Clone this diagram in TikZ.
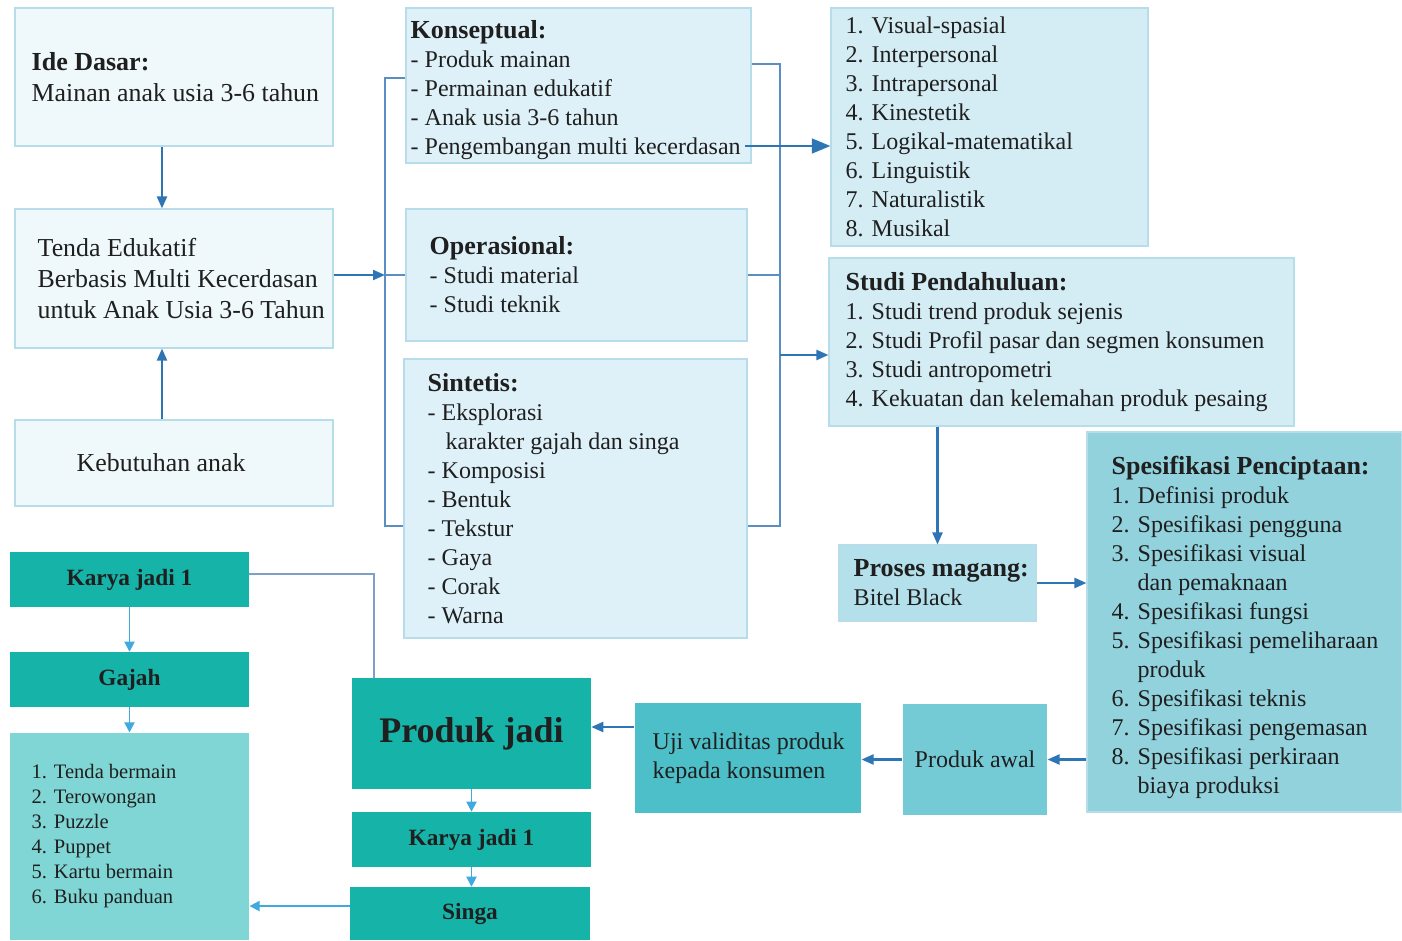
\documentclass[tikz,border=0pt]{standalone}
\usepackage{fontspec}
\setmainfont{Liberation Serif}
\usetikzlibrary{arrows.meta,positioning}

\definecolor{boxline}{HTML}{B7DDEA}
\definecolor{palefill}{HTML}{EFF8FB}
\definecolor{softfill}{HTML}{DFF1F8}
\definecolor{skyfill}{HTML}{D4ECF4}
\definecolor{magangfill}{HTML}{B3E0EA}
\definecolor{spekfill}{HTML}{92D2DD}
\definecolor{awalfill}{HTML}{74CBD6}
\definecolor{ujifill}{HTML}{4DBFC8}
\definecolor{tealfill}{HTML}{16B3A8}
\definecolor{daftarfill}{HTML}{80D6D4}
\definecolor{arrowblue}{HTML}{2E75B6}
\definecolor{brkblue}{HTML}{5B8FC2}
\definecolor{lightarrow}{HTML}{3FA9E0}
\definecolor{linkblue}{HTML}{7F9FC6}
\definecolor{textdark}{HTML}{1F1F1F}

% judul kotak sedikit lebih besar
\newcommand\judul[1]{{\fontsize{19.5}{21.75}\selectfont\bfseries #1}}

\tikzset{
  pale/.style={draw=boxline, fill=palefill, line width=0.8pt, inner sep=0pt},
  soft/.style={pale, fill=softfill},
  sky/.style={pale, fill=skyfill},
  tealbox/.style={draw=none, fill=tealfill, inner sep=0pt, align=center,
    text=textdark, font=\fontsize{17.5}{21}\selectfont\bfseries},
  txt/.style={inner sep=0pt, align=left, text=textdark,
    font=\fontsize{18}{21.75}\selectfont},
  txtwide/.style={txt, font=\fontsize{19.4}{23.25}\selectfont},
  arr/.style={draw=arrowblue, line width=1.6pt, -{Triangle[length=9pt,width=7.5pt]}},
  bigarr/.style={draw=arrowblue, line width=2pt, -{Triangle[length=14pt,width=11pt]}},
  larr/.style={draw=lightarrow, line width=1.4pt, -{Triangle[length=7.5pt,width=7.5pt]}},
  brk/.style={draw=brkblue, line width=1.3pt},
  link/.style={draw=linkblue, line width=0.9pt}
}

\begin{document}
\begin{tikzpicture}[x=0.75pt,y=0.75pt,yscale=-1,xscale=1]
  \useasboundingbox (0,0) rectangle (1402,941);

  % kolom kiri
  \node[pale, minimum width=238.5pt, minimum height=103.5pt] (ide) at (174,77) {};
  \node[txtwide, right=12.75pt of ide.west] (ideT) {\judul{Ide Dasar:}\\Mainan anak usia 3-6 tahun};
  \node[pale, minimum width=238.5pt, minimum height=104.25pt] (tenda) at (174,278.5) {};
  \node[txtwide, right=17.25pt of tenda.west] (tendaT) {Tenda Edukatif\\Berbasis Multi Kecerdasan\\untuk Anak Usia 3-6 Tahun};
  \node[pale, minimum width=238.5pt, minimum height=64.5pt] (butuh) at (174,463) {};
  \node[txtwide, right=46.5pt of butuh.west] (butuhT) {Kebutuhan anak};

  % kolom tengah
  \node[soft, minimum width=258.75pt, minimum height=116.25pt] (konsep) at (578.5,85.5) {};
  \node[txt, right=3.75pt of konsep.west, yshift=-3.75pt] (konsepT) {\judul{Konseptual:}\\- Produk mainan\\- Permainan edukatif\\- Anak usia 3-6 tahun\\- Pengembangan multi kecerdasan};
  \node[soft, minimum width=255.75pt, minimum height=99pt] (opera) at (576.5,275) {};
  \node[txt, right=18pt of opera.west] (operaT) {\judul{Operasional:}\\- Studi material\\- Studi teknik};
  \node[soft, minimum width=257.25pt, minimum height=209.25pt] (sintetis) at (575.5,498.5) {};
  \node[txt, right=18pt of sintetis.west] (sintetisT) {\judul{Sintetis:}\\- Eksplorasi\\\hspace*{13.5pt}karakter gajah dan singa\\- Komposisi\\- Bentuk\\- Tekstur\\- Gaya\\- Corak\\- Warna};

  % kolom kanan
  \node[sky, minimum width=237.75pt, minimum height=178.5pt] (visual) at (989.5,127) {};
  \node[txt, right=11.25pt of visual.west] (visualT) {1. Visual-spasial\\2. Interpersonal\\3. Intrapersonal\\4. Kinestetik\\5. Logikal-matematikal\\6. Linguistik\\7. Naturalistik\\8. Musikal};
  \node[sky, minimum width=348.75pt, minimum height=126pt] (studi) at (1061.5,342) {};
  \node[txt, right=12.75pt of studi.west] (studiT) {\judul{Studi Pendahuluan:}\\1. Studi trend produk sejenis\\2. Studi Profil pasar dan segmen konsumen\\3. Studi antropometri\\4. Kekuatan dan kelemahan produk pesaing};
  \node[pale, fill=magangfill, minimum width=147.75pt, minimum height=57pt] (magang) at (937.5,583) {};
  \node[txt, right=11.25pt of magang.west] (magangT) {\judul{Proses magang:}\\Bitel Black};
  \node[pale, fill=spekfill, minimum width=236.25pt, minimum height=285pt] (spek) at (1244.5,622) {};
  \node[txt, right=18.75pt of spek.west, yshift=-3.75pt] (spekT) {\judul{Spesifikasi Penciptaan:}\\1. Definisi produk\\2. Spesifikasi pengguna\\3. Spesifikasi visual\\\phantom{3. }dan pemaknaan\\4. Spesifikasi fungsi\\5. Spesifikasi pemeliharaan\\\phantom{5. }produk\\6. Spesifikasi teknis\\7. Spesifikasi pengemasan\\8. Spesifikasi perkiraan\\\phantom{8. }biaya produksi};
  \node[pale, draw=none, fill=awalfill, minimum width=108pt, minimum height=83.25pt, txt, align=center] (awal) at (975,759.5) {Produk awal};
  \node[pale, draw=none, fill=ujifill, minimum width=169.5pt, minimum height=82.5pt] (uji) at (748,758) {};
  \node[txt, right=13.5pt of uji.west] (ujiT) {Uji validitas produk\\kepada konsumen};

  % produk jadi
  \node[tealbox, minimum width=179.25pt, minimum height=83.25pt, font=\fontsize{27}{32}\selectfont\bfseries] (jadi) at (471.5,733.5) {Produk jadi};
  \node[tealbox, minimum width=179.25pt, minimum height=41.25pt] (karyaB) at (471.5,839.5) {Karya jadi 1};
  \node[tealbox, minimum width=180pt, minimum height=39.75pt] (singa) at (470,913.5) {Singa};
  \node[tealbox, minimum width=179.25pt, minimum height=41.25pt] (karyaA) at (129.5,579.5) {Karya jadi 1};
  \node[tealbox, minimum width=179.25pt, minimum height=41.25pt] (gajah) at (129.5,679.5) {Gajah};
  \node[pale, draw=none, fill=daftarfill, minimum width=179.25pt, minimum height=155.25pt] (daftar) at (129.5,836.5) {};
  \node[txt, right=16.5pt of daftar.west, font=\fontsize{15.4}{18.75}\selectfont] (daftarT) {1. Tenda bermain\\2. Terowongan\\3. Puzzle\\4. Puppet\\5. Kartu bermain\\6. Buku panduan};

  % panah kiri
  \draw[arr] ([xshift=-9pt]ide.south) -- ([xshift=-9pt]tenda.north);
  \draw[arr] ([xshift=-9pt]butuh.north) -- ([xshift=-9pt]tenda.south);

  % kurung kiri dan kanan
  \coordinate (bkA) at (385,78);
  \coordinate (bkB) at (385,526);
  \coordinate (bkC) at (780,64);
  \coordinate (bkD) at (780,526);
  \coordinate (bkE) at (780,355);
  \draw[brk] (konsep.west |- bkA) -- (bkA) -- (bkB) -- (sintetis.west |- bkB);
  \draw[brk] (opera.west) -- (opera.west -| bkA);
  \draw[arr] (tenda.east |- opera.west) -- (opera.west -| bkA);
  \draw[brk] (konsep.east |- bkC) -- (bkC) -- (bkD) -- (sintetis.east |- bkD);
  \draw[brk] (opera.east) -- (opera.east -| bkC);
  \draw[arr] (bkE) -- (studi.west |- bkE);
  \coordinate (pengEnd) at (745,146);
  \draw[bigarr] (pengEnd) -- (visual.west |- pengEnd);

  % alur kanan ke bawah
  \draw[arr] (studi.south -| magang.north) -- (magang.north);
  \draw[arr] (magang.east) -- (magang.east -| spek.west);
  \draw[arr] (spek.west |- awal.east) -- (awal.east);
  \draw[arr] (awal.west) -- (awal.west -| uji.east);
  \draw[arr] ([yshift=-23.25pt]uji.west) -- ([yshift=-23.25pt]uji.west -| jadi.east);

  % alur produk jadi
  \coordinate (tekuk) at (374,574);
  \draw[link] (jadi.north -| tekuk) -- (tekuk) -- (tekuk -| karyaA.east);
  \draw[larr] (karyaA.south) -- (gajah.north);
  \draw[larr] (gajah.south) -- (daftar.north);
  \draw[larr] (jadi.south) -- (karyaB.north);
  \draw[larr] (karyaB.south) -- (karyaB.south |- singa.north);
  \draw[larr] ([yshift=-5.6pt]singa.west) -- ([yshift=-5.6pt]singa.west -| daftar.east);
\end{tikzpicture}
\end{document}
